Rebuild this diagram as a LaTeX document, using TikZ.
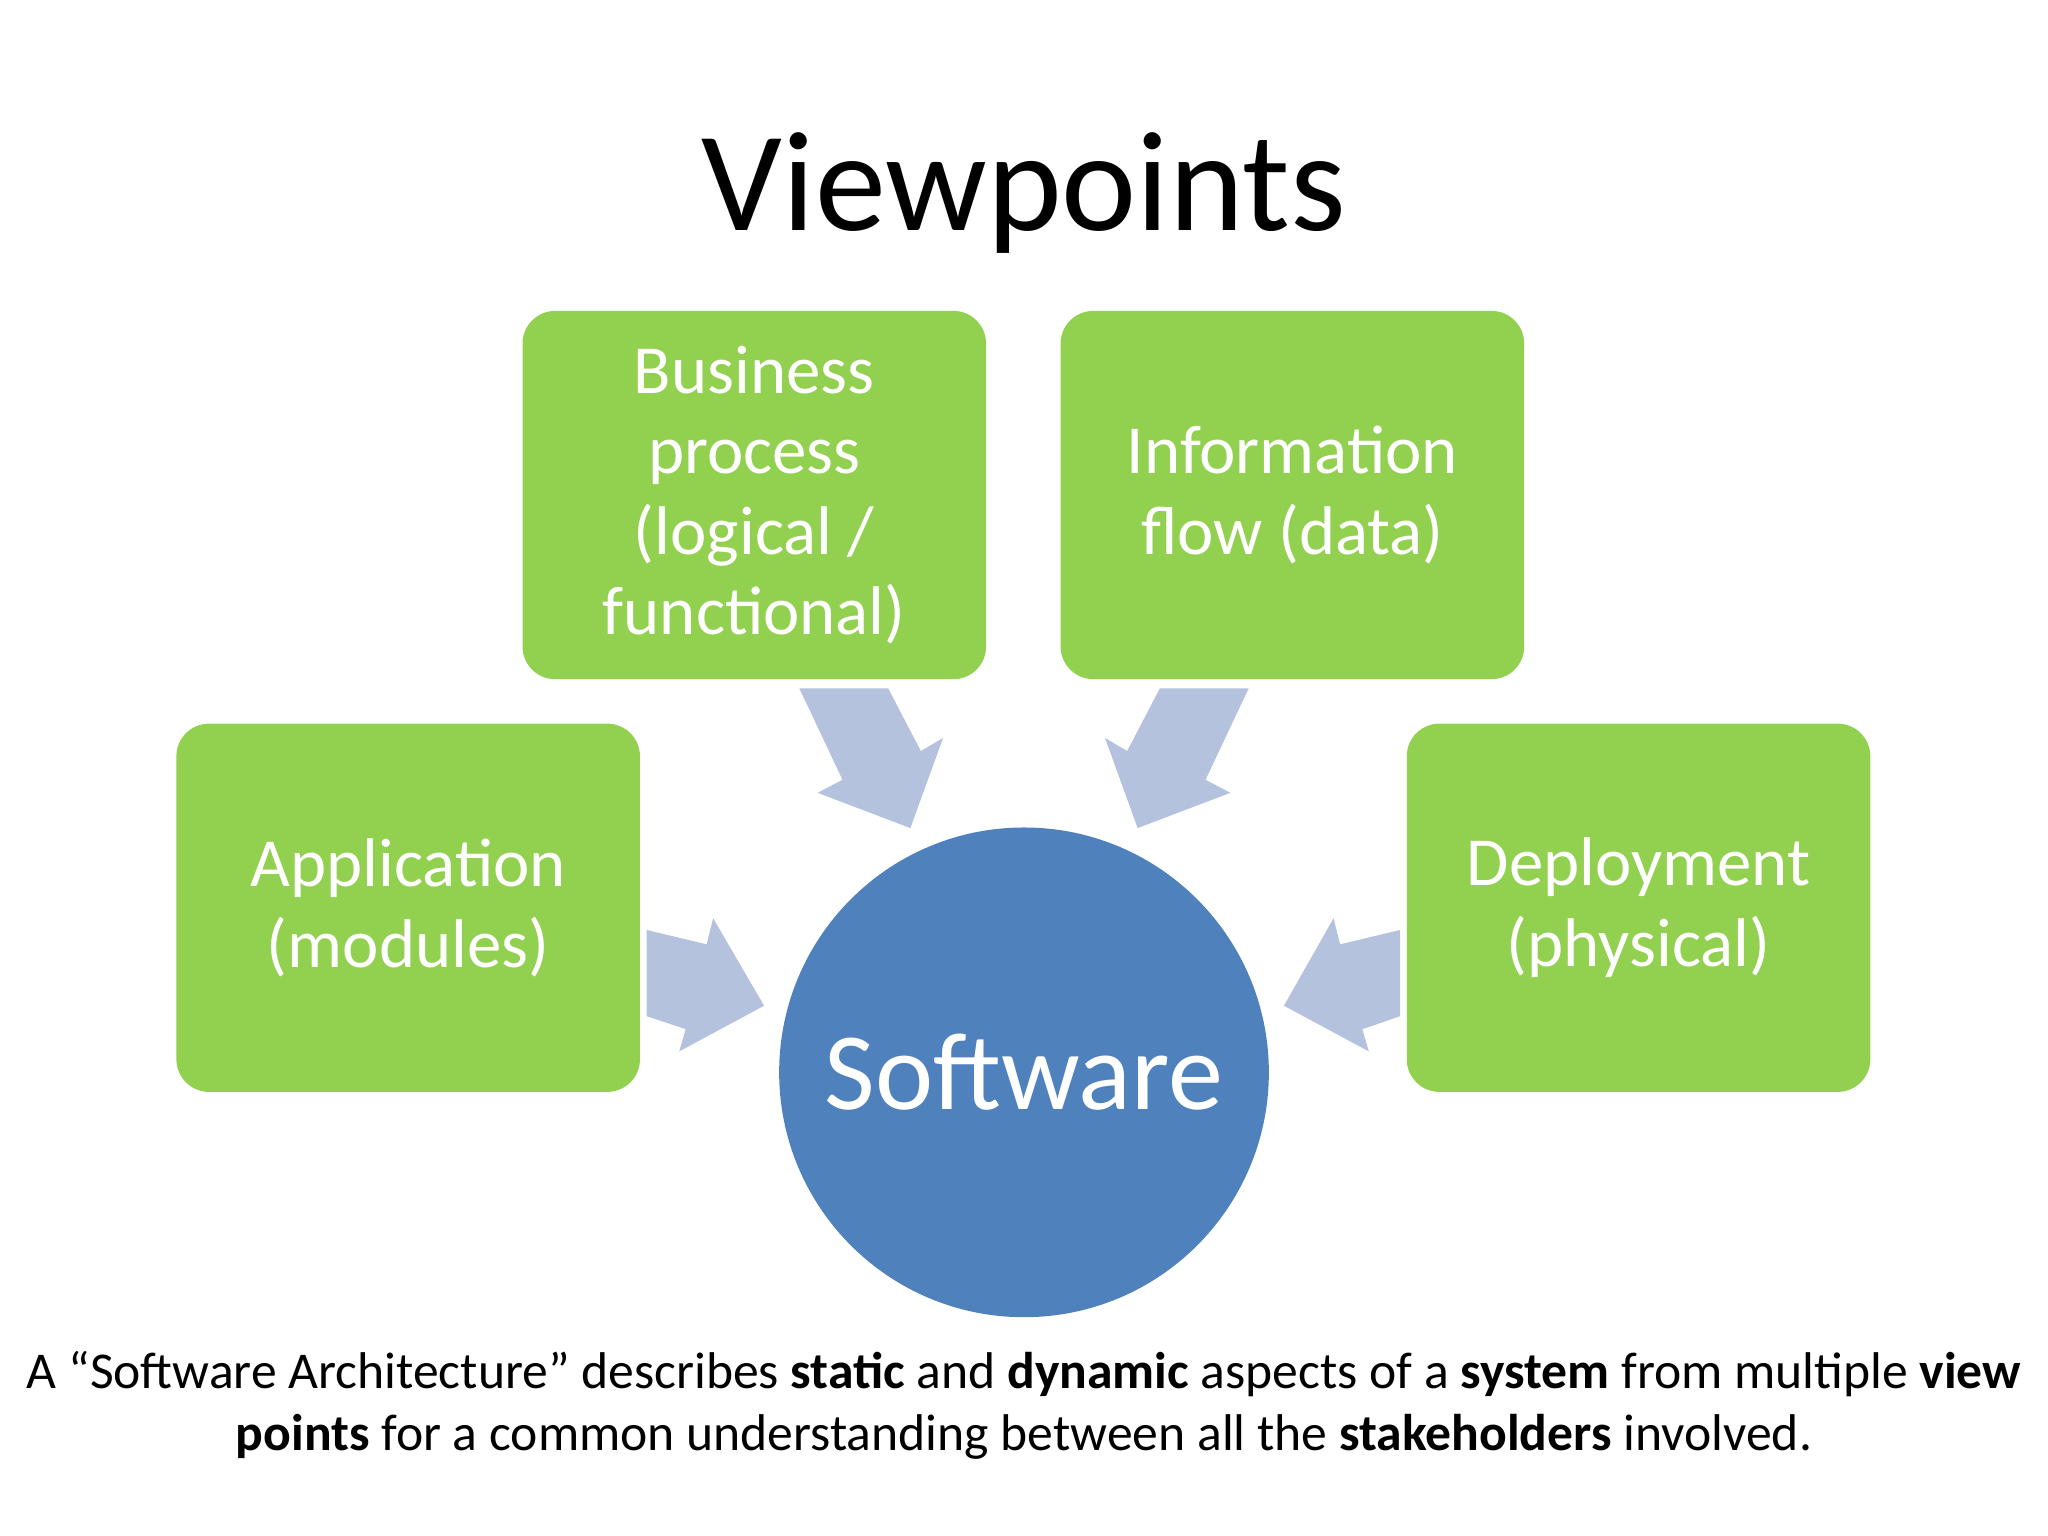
\documentclass[tikz,border=0pt]{standalone}
\usepackage{fontspec}
\setmainfont{Carlito}
\definecolor{boxg}{RGB}{146,208,80}
\definecolor{circb}{RGB}{79,129,189}
\definecolor{arr}{RGB}{180,194,222}
\begin{document}
\begin{tikzpicture}[x=0.02cm,y=-0.02cm,
  vbox/.style={fill=boxg,rounded corners=0.5cm,inner sep=0pt,text=white,align=center,font=\fontsize{30}{35}\selectfont,minimum width=7.1cm,minimum height=5.64cm},
  blk/.style={fill=arr,draw=none}]
\useasboundingbox (0,0) rectangle (1568,1176);
\node (title) at (784,148) {\fontsize{62}{70}\selectfont Viewpoints};
\node[vbox] (bus) at (577.5,379) {Business\\process\\(logical /\\functional)};
\node[vbox] (inf) at (989.5,379) {Information\\flow (data)};
\node[vbox] (app) at (312.5,695) {Application\\(modules)};
\node[vbox] (dep) at (1254.5,695) {Deployment\\(physical)};
\node[circle,fill=circb,minimum size=7.5cm,text=white,font=\fontsize{48}{56}\selectfont] (sw) at (784,821) {Software};
\fill[blk] (495,712)--(541,723)--(546,703)--(585,770)--(520,805)--(525,788)--(495,778)--cycle;
\fill[blk] (1072,712)--(1026,723)--(1021,703)--(983,770)--(1048,805)--(1043,788)--(1072,778)--cycle;
\fill[blk] (612,527)--(680,527)--(705,575)--(722,565)--(697,634)--(626,607)--(645,597)--cycle;
\fill[blk] (956,527)--(888,527)--(863,575)--(846,565)--(871,634)--(942,607)--(923,597)--cycle;
\node[align=center,font=\fontsize{22.5}{26.7}\selectfont] (cap) at (784,1076) {A “Software Architecture” describes \textbf{static} and \textbf{dynamic} aspects of a \textbf{system} from multiple \textbf{view}\\\textbf{points} for a common understanding between all the \textbf{stakeholders} involved.};
\end{tikzpicture}
\end{document}
